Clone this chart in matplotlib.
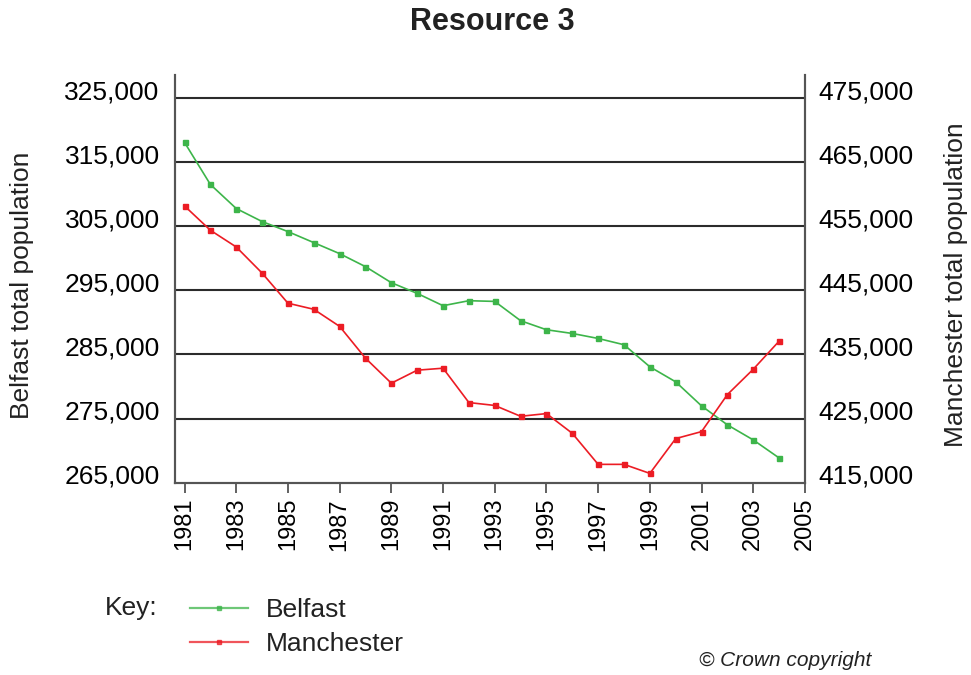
import matplotlib
matplotlib.use("Agg")
import matplotlib.pyplot as plt
import matplotlib.transforms as mtransforms
from matplotlib.lines import Line2D
from matplotlib.ticker import FuncFormatter

plt.rcParams['font.family'] = ['Liberation Sans', 'DejaVu Sans']

years = list(range(1981, 2005))
belfast = [318080, 311520, 307770, 305740, 304170, 302450, 300730, 298700,
           296200, 294530, 292610, 293390, 293280, 290270, 288860, 288280,
           287500, 286520, 283080, 280730, 276980, 274020, 271670, 268860]
manchester = [458170, 454380, 451770, 447700, 443000, 442050, 439380, 434420,
              430520, 432550, 432860, 427500, 427050, 425360, 425780, 422700,
              417860, 417860, 416450, 421880, 422970, 428750, 432700, 437080]
left_ticks = [265000, 275000, 285000, 295000, 305000, 315000, 325000]
right_ticks = [415000, 425000, 435000, 445000, 455000, 465000, 475000]
x_ticks = list(range(1981, 2006, 2))

green = "#3db54a"
red = "#ec1c24"
grid_col = "#2b2b2b"
spine_col = "#555555"

fig = plt.figure(figsize=(9.71, 6.75), dpi=100)
ax = fig.add_axes([0.1802, 0.2849, 0.829 - 0.1802, 0.8889 - 0.2849])
ax2 = ax.twinx()

ax.set_xlim(1980.63, 2005)
ax.set_ylim(265000, 328600)
ax2.set_ylim(415000, 478600)

# gridlines drawn at the left-axis tick values
for v in left_ticks[1:]:
    ax.axhline(v, color=grid_col, lw=1.5, zorder=1)

ax.plot(years, belfast, color=green, lw=1.2, marker='s', ms=3.6,
        mec=green, mfc=green, zorder=3)
ax2.plot(years, manchester, color=red, lw=1.2, marker='s', ms=3.6,
         mec=red, mfc=red, zorder=3)

fmt = FuncFormatter(lambda v, p: f"{int(v):,}")
ax.set_yticks(left_ticks)
ax.yaxis.set_major_formatter(fmt)
ax2.set_yticks(right_ticks)
ax2.yaxis.set_major_formatter(fmt)
ax.tick_params(axis='y', length=0, pad=11, labelsize=19)
ax2.tick_params(axis='y', length=0, pad=10, labelsize=19)

# tick labels sit a little above their gridlines
shift = mtransforms.ScaledTranslation(0, 6 / 72, fig.dpi_scale_trans)
for lab in ax.get_yticklabels() + ax2.get_yticklabels():
    lab.set_transform(lab.get_transform() + shift)

ax.set_xticks(x_ticks)
ax.set_xticklabels([str(y) for y in x_ticks], rotation=90)
ax.tick_params(axis='x', direction='out', length=7, width=1.3,
               color=spine_col, labelsize=17, pad=4)

for a in (ax, ax2):
    a.spines['top'].set_visible(False)
    for s in ('left', 'right', 'bottom'):
        a.spines[s].set_color(spine_col)
        a.spines[s].set_linewidth(1.5)

fig.text(0.5075, 0.967, "Resource 3", ha='center', va='center',
         fontsize=22, fontweight='bold', color='#222222')
fig.text(0.023, 0.578, "Belfast total population", rotation=90,
         ha='center', va='center', fontsize=19, color='#222222')
fig.text(0.985, 0.578, "Manchester total population", rotation=90,
         ha='center', va='center', fontsize=19, color='#222222')

fig.text(0.108, 0.099, "Key:", ha='left', va='center', fontsize=19,
         color='#222222')
handles = [Line2D([], [], color=green, lw=1.6, alpha=0.75, marker='s', ms=3,
                  mfc=green, mec=green),
           Line2D([], [], color=red, lw=1.6, alpha=0.75, marker='s', ms=3,
                  mfc=red, mec=red)]
fig.legend(handles, ["Belfast", "Manchester"], loc='upper left',
           bbox_to_anchor=(0.196, 0.114), frameon=False, fontsize=19,
           handlelength=2.2, handletextpad=0.65, labelspacing=0.38,
           borderaxespad=0, borderpad=0, labelcolor='#222222')

fig.text(0.897, 0.008, "© Crown copyright", ha='right', va='bottom',
         fontsize=15, style='italic', color='#222222')

fig.savefig("out.png", dpi=100)
